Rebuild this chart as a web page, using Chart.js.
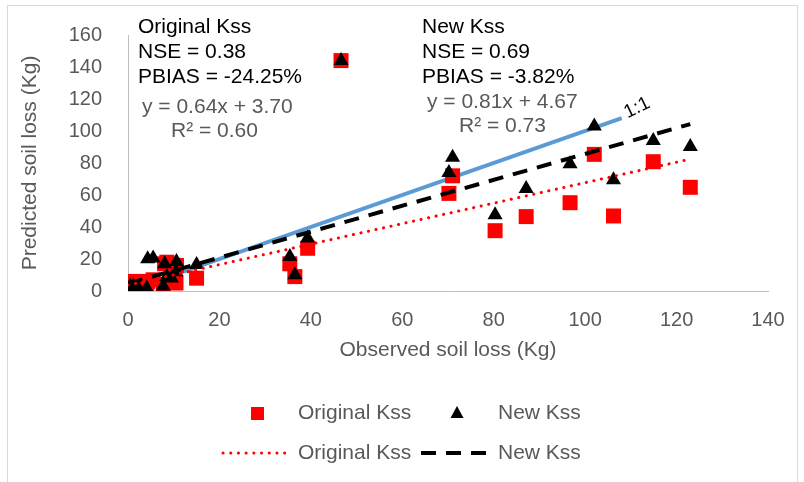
<!DOCTYPE html>
<html>
<head>
<meta charset="utf-8">
<script src="https://cdn.jsdelivr.net/npm/chart.js@4/dist/chart.umd.min.js"></script>
<style>
  html, body { margin: 0; padding: 0; background: #ffffff; }
  #wrap { width: 804px; height: 482px; position: relative; }
</style>
</head>
<body>
<div id="wrap"><canvas id="c" width="804" height="482"></canvas></div>
<script>
// Observed vs predicted soil loss (Kg) for each event
const observed    = [0, 0.5, 1.2, 2.2, 4.1, 4.3, 5.5, 7.7, 8, 8.5, 9.5, 10.5, 10.6, 15, 35.4, 36.5, 39.3, 46.6, 70.2, 71, 80.3, 87.1, 96.7, 102, 106.2, 114.9, 123];
const originalKss = [5, 1, 6, 5, 3, 6, 7, 4, 17, 18, 10, 5, 16, 8, 17, 9, 26.7, 144, 61, 72, 37.7, 46.5, 55.2, 85.4, 46.9, 80.8, 64.8];
const newKss      = [0, 3, 3, 2, 1.7, 20, 20.5, 3, 17, 9, 8, 12, 18.3, 16.5, 21.5, 10, 33, 144, 74, 83.5, 47.5, 64, 79.4, 103, 69.4, 94, 90.2];

// Linear fits (slope, intercept) and 1:1 reference segment
const originalFit = [0.64, 3.70];
const newFit      = [0.81, 4.67];
const oneToOne    = [0, 108];

// Axis ranges
const xRange = [0, 140, 20];
const yRange = [0, 160, 20];

// Fit statistics text blocks
const originalStats = ['Original Kss', 'NSE = 0.38', 'PBIAS = -24.25%'];
const newStats      = ['New Kss', 'NSE = 0.69', 'PBIAS = -3.82%'];
const originalEq    = ['y = 0.64x + 3.70', 'R\u00B2 = 0.60'];
const newEq         = ['y = 0.81x + 4.67', 'R\u00B2 = 0.73'];

const FONT = '"Liberation Sans", Arial, sans-serif';
const GREY = '#595959';

const toPoints = (xs, ys) => xs.map((x, i) => ({ x: x, y: ys[i] }));
const xMin = Math.min(...observed), xMax = Math.max(...observed);
const fitLine = f => [{ x: xMin, y: f[0] * xMin + f[1] }, { x: xMax, y: f[0] * xMax + f[1] }];

const decorations = {
  id: 'decorations',
  beforeDraw(chart) {
    const ctx = chart.ctx;
    ctx.save();
    ctx.fillStyle = '#ffffff';
    ctx.fillRect(0, 0, chart.width, chart.height);
    ctx.strokeStyle = '#D9D9D9';
    ctx.lineWidth = 1;
    ctx.strokeRect(7.5, 5.5, 790, 480);
    ctx.restore();
  },
  afterDraw(chart) {
    const ctx = chart.ctx;
    ctx.save();
    ctx.textBaseline = 'middle';
    ctx.textAlign = 'left';
    ctx.font = '21px ' + FONT;

    // statistics blocks
    ctx.fillStyle = '#000000';
    originalStats.forEach((t, i) => ctx.fillText(t, 138, 27 + i * 25));
    newStats.forEach((t, i) => ctx.fillText(t, 422, 27 + i * 25));
    ctx.fillStyle = GREY;
    ctx.fillText(originalEq[0], 142, 107);
    ctx.fillText(originalEq[1], 171, 131);
    ctx.fillText(newEq[0], 427, 102);
    ctx.fillText(newEq[1], 459, 126);

    // 1:1 label
    ctx.save();
    ctx.translate(637, 108);
    ctx.rotate(-26 * Math.PI / 180);
    ctx.fillStyle = '#000000';
    ctx.font = '19px ' + FONT;
    ctx.textAlign = 'center';
    ctx.fillText('1:1', 0, 0);
    ctx.restore();

    // legend
    ctx.font = '21px ' + FONT;
    ctx.fillStyle = GREY;
    ctx.fillText('Original Kss', 298, 413);
    ctx.fillText('New Kss', 498, 413);
    ctx.fillText('Original Kss', 298, 453);
    ctx.fillText('New Kss', 498, 453);

    ctx.fillStyle = '#FF0000';
    ctx.fillRect(251, 407, 13, 13);

    ctx.fillStyle = '#000000';
    ctx.beginPath();
    ctx.moveTo(457, 406);
    ctx.lineTo(463.5, 418);
    ctx.lineTo(450.5, 418);
    ctx.closePath();
    ctx.fill();

    ctx.strokeStyle = '#FF0000';
    ctx.lineWidth = 3;
    ctx.lineCap = 'round';
    ctx.setLineDash([0.1, 7.6]);
    ctx.beginPath();
    ctx.moveTo(223, 453);
    ctx.lineTo(292, 453);
    ctx.stroke();

    ctx.strokeStyle = '#000000';
    ctx.lineWidth = 4;
    ctx.lineCap = 'butt';
    ctx.setLineDash([15, 10]);
    ctx.beginPath();
    ctx.moveTo(421, 453);
    ctx.lineTo(491, 453);
    ctx.stroke();
    ctx.restore();
  }
};

new Chart(document.getElementById('c'), {
  type: 'scatter',
  data: {
    datasets: [
      {
        label: 'Original Kss trend',
        type: 'line',
        data: fitLine(originalFit),
        borderColor: '#FF0000',
        borderWidth: 3,
        borderDash: [0.1, 7.6],
        borderCapStyle: 'round',
        pointRadius: 0,
        fill: false,
        order: 1
      },
      {
        label: 'New Kss trend',
        type: 'line',
        data: fitLine(newFit),
        borderColor: '#000000',
        borderWidth: 4,
        borderDash: [15, 10],
        pointRadius: 0,
        fill: false,
        order: 2
      },
      {
        label: 'New Kss',
        data: toPoints(observed, newKss),
        pointStyle: 'triangle',
        pointRadius: 8.7,
        backgroundColor: '#000000',
        borderColor: '#000000',
        borderWidth: 0,
        order: 3
      },
      {
        label: 'Original Kss',
        data: toPoints(observed, originalKss),
        pointStyle: 'rect',
        pointRadius: 10.6,
        backgroundColor: '#FF0000',
        borderColor: '#FF0000',
        borderWidth: 0,
        order: 4
      },
      {
        label: '1:1',
        type: 'line',
        data: toPoints(oneToOne, oneToOne),
        borderColor: '#5B9BD5',
        borderWidth: 4,
        pointRadius: 0,
        fill: false,
        order: 5
      }
    ]
  },
  options: {
    responsive: false,
    animation: false,
    devicePixelRatio: 1,
    layout: { padding: { left: 6, right: 36, top: 35, bottom: 115 } },
    plugins: { legend: { display: false }, tooltip: { enabled: false } },
    scales: {
      x: {
        type: 'linear',
        min: xRange[0], max: xRange[1],
        ticks: { stepSize: xRange[2], color: GREY, font: { family: FONT, size: 20 }, padding: 9 },
        grid: { display: false },
        border: { display: true, color: '#BFBFBF', width: 1 },
        title: { display: true, text: 'Observed soil loss (Kg)', color: GREY, font: { family: FONT, size: 21 }, padding: { top: 0, bottom: 4 } },
        afterFit: s => { s.height = 76; }
      },
      y: {
        type: 'linear',
        min: yRange[0], max: yRange[1],
        ticks: { stepSize: yRange[2], color: GREY, font: { family: FONT, size: 20 }, padding: 18 },
        grid: { display: false },
        border: { display: true, color: '#BFBFBF', width: 1 },
        title: { display: true, text: 'Predicted soil loss (Kg)', color: GREY, font: { family: FONT, size: 21 }, padding: { top: 12, bottom: 0 } },
        afterFit: s => { s.width = 122; }
      }
    }
  },
  plugins: [decorations]
});
</script>
</body>
</html>
